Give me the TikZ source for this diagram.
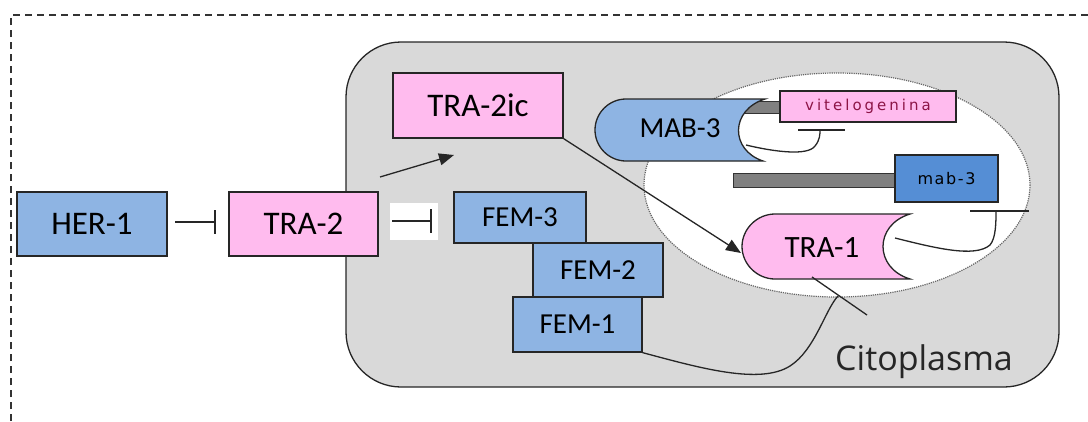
\documentclass[tikz,border=0pt]{standalone}
\usepackage{fontspec}
\setmainfont{Carlito}
\newfontfamily\citofont{Open Sans}
\newfontfamily\tinyfont[LetterSpace=20]{DejaVu Sans}
\newfontfamily\smallfont[LetterSpace=10]{DejaVu Sans}
\usetikzlibrary{arrows.meta}
\definecolor{pinkc}{RGB}{255,187,238}
\definecolor{bluec}{RGB}{142,180,227}
\definecolor{darkbluec}{RGB}{85,142,213}
\definecolor{bgc}{RGB}{217,217,217}
\definecolor{barc}{RGB}{128,128,128}
\definecolor{vitc}{RGB}{140,20,70}
\tikzset{
  box/.style={draw=black!85, line width=1.3, inner sep=0, anchor=center, text=black},
  pinkbox/.style={box, fill=pinkc},
  bluebox/.style={box, fill=bluec},
  big/.style={font=\fontsize{33}{36}\selectfont},
  mid/.style={font=\fontsize{29}{32}\selectfont},
  conn/.style={draw=black!85, line width=1.3},
  inhib/.style={conn, -{Bar[width=24,line width=2.2]}},
  act/.style={conn, -{Triangle[length=15,width=12]}},
  barrect/.style={fill=barc, draw=black!80, line width=1},
}
\begin{document}
\begin{tikzpicture}[x=1pt,y=-1pt]
\useasboundingbox (0,0) rectangle (1088,421);
% frame
\draw[dash pattern=on 7 off 5, line width=1.7, black!80] (11,421) -- (11,15) -- (1092,15);
% cytoplasm
\draw[fill=bgc, draw=black!85, line width=1.3, rounded corners=55] (346,42) rectangle (1059,387);
% nucleus
\draw[fill=white, draw=black!60, densely dotted, line width=1.2] (837,185) ellipse [x radius=193, y radius=112];
% white patch behind inhibition
\fill[white] (390,203) rectangle (438,240);

% boxes
\node[bluebox, big, minimum width=150, minimum height=64] (her1) at (92,224) {HER-1};
\node[pinkbox, big, minimum width=149, minimum height=64] (tra2) at (303.5,224) {TRA-2};
\node[pinkbox, big, minimum width=170, minimum height=65] (tra2ic) at (478,105.5) {TRA-2ic};
\node[bluebox, mid, minimum width=132, minimum height=51] (fem3) at (520,217.5) {FEM-3};
\node[bluebox, mid, minimum width=130, minimum height=54] (fem2) at (598,270) {FEM-2};
\node[bluebox, mid, minimum width=129, minimum height=55] (fem1) at (577.5,324.5) {FEM-1};

% bars
\draw[barrect] (743,101) rectangle (781,113);
\draw[barrect] (733,173) rectangle (896,187);
\node[pinkbox, minimum width=176, minimum height=31, font=\tinyfont\fontsize{15}{16}\selectfont, text=vitc] (vit) at (868,106.5) {vitelogenina};
\node[box, fill=darkbluec, minimum width=103, minimum height=47, font=\smallfont\fontsize{16}{18}\selectfont] (mab3g) at (946.5,178.5) {mab-3};

% MAB-3 shape
\draw[fill=bluec, draw=black!85, line width=1.3]
  (765,99) -- (626,99) .. controls (609,99) and (595,113) .. (595,130)
  .. controls (595,147) and (609,161) .. (626,161) -- (763,161)
  .. controls (730,150) and (730,110) .. (765,99) -- cycle;
\node[font=\fontsize{29}{32}\selectfont, inner sep=0] (mab3) at (680,128) {MAB-3};

% TRA-1 shape
\draw[fill=pinkc, draw=black!85, line width=1.3]
  (910,214) -- (775,214) .. controls (757,214) and (742,229) .. (742,246.5)
  .. controls (742,264) and (757,279) .. (775,279) -- (910,279)
  .. controls (874,268) and (874,225) .. (910,214) -- cycle;
\node[font=\fontsize{31}{34}\selectfont, inner sep=0] (tra1) at (822,248) {TRA-1};

% connectors
\coordinate (i1s) at (175,222);
\coordinate (i1e) at (216,222);
\draw[inhib] (i1s) -- (i1e);
\coordinate (i2s) at (392,221);
\coordinate (i2e) at (432,221);
\draw[inhib] (i2s) -- (i2e);
\coordinate (a1s) at (380,177);
\coordinate (a1e) at (454,155);
\draw[act] (a1s) -- (a1e);
\draw[act] (tra2ic.south east) -- (741,253);

% binding lines
\coordinate (vl1) at (798,130);
\coordinate (vl2) at (845,130);
\draw[conn] (vl1) -- (vl2);
\coordinate (mc) at (746,145);
\draw[conn] (mc) .. controls (775,152) and (808,156) .. (815,146) .. controls (820,140) and (820,134) .. (820,130);
\coordinate (ml1) at (970,211);
\coordinate (ml2) at (1029,211);
\draw[conn] (ml1) -- (ml2);
\coordinate (tc) at (895,238);
\draw[conn] (tc) .. controls (935,248) and (975,258) .. (990,245) .. controls (996,238) and (996,222) .. (996,211);
\coordinate (tb1) at (812,277);
\coordinate (tb2) at (867,315);
\draw[conn] (tb1) -- (tb2);
\coordinate (fx) at (838,296);
\draw[conn] (fem1.south east) .. controls (700,368) and (760,385) .. (790,366) .. controls (815,350) and (825,310) .. (fx);

\node[font=\citofont\fontsize{34}{38}\selectfont, anchor=base west, inner sep=0, text=black!85] (cito) at (835,370) {Citoplasma};
\end{tikzpicture}
\end{document}
